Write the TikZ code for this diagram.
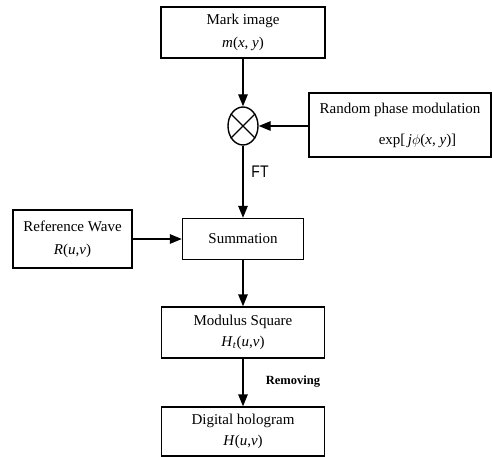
\documentclass[tikz,border=0pt]{standalone}
\usepackage{fontspec}
\setmainfont{Liberation Serif}
\newfontfamily\ftsans{Liberation Sans}
\usetikzlibrary{arrows.meta,shapes.geometric}
\begin{document}
\begin{tikzpicture}[x=1pt,y=1pt,
  box/.style={draw, line width=1.4pt, inner sep=0pt, align=center, font=\fontsize{15}{23}\selectfont},
  arr/.style={line width=1.4pt, -{Triangle[length=12pt,width=9.5pt]}},
  lbl/.style={inner sep=0pt}]
\useasboundingbox (0,0) rectangle (492,-457);
\node[box, minimum width=164pt, minimum height=51pt] (mark) at (243,-32.5)
  {Mark image\\\textit{m}(\textit{x}, \textit{y})};
\node[draw, ellipse, line width=1.4pt, minimum width=30pt, minimum height=38pt, inner sep=0pt] (circ) at (243,-126) {};
\draw[line width=1.4pt] (circ.45) -- (circ.225) (circ.135) -- (circ.315);
\node[box, minimum width=182pt, minimum height=64pt] (rand) at (400,-125)
  {Random phase modulation\\[8pt]\hspace*{35pt}exp[\,\textit{j}$\phi$(\textit{x}, \textit{y})]};
\node[lbl, font=\ftsans\fontsize{14}{14}\selectfont, yscale=1.2] (ft) at (260,-172) {FT};
\node[box, minimum width=121pt, minimum height=41pt] (sum) at (243,-239) {Summation};
\node[box, minimum width=119pt, minimum height=58pt] (ref) at (72.5,-239)
  {Reference Wave\\\textit{R}(\textit{u},\textit{v})};
\node[box, minimum width=163pt, minimum height=51pt] (mod) at (243,-332.5)
  {Modulus Square\\[-2pt]\textit{H}\textsubscript{\textit{t}}(\textit{u},\textit{v})};
\node[lbl, font=\bfseries\fontsize{12.5}{13}\selectfont] (rem) at (293,-382) {Removing};
\node[box, minimum width=163pt, minimum height=49pt] (dig) at (243,-431.5)
  {Digital hologram\\[-2pt]\textit{H}(\textit{u},\textit{v})};
\draw[arr] (mark.south) -- (circ.north);
\draw[arr] (rand.west |- circ.east) -- (circ.east);
\draw[arr] (circ.south) -- (sum.north);
\draw[arr] (ref.east) -- (sum.west);
\draw[arr] (sum.south) -- (mod.north);
\draw[arr] (mod.south) -- (dig.north);
\end{tikzpicture}
\end{document}
